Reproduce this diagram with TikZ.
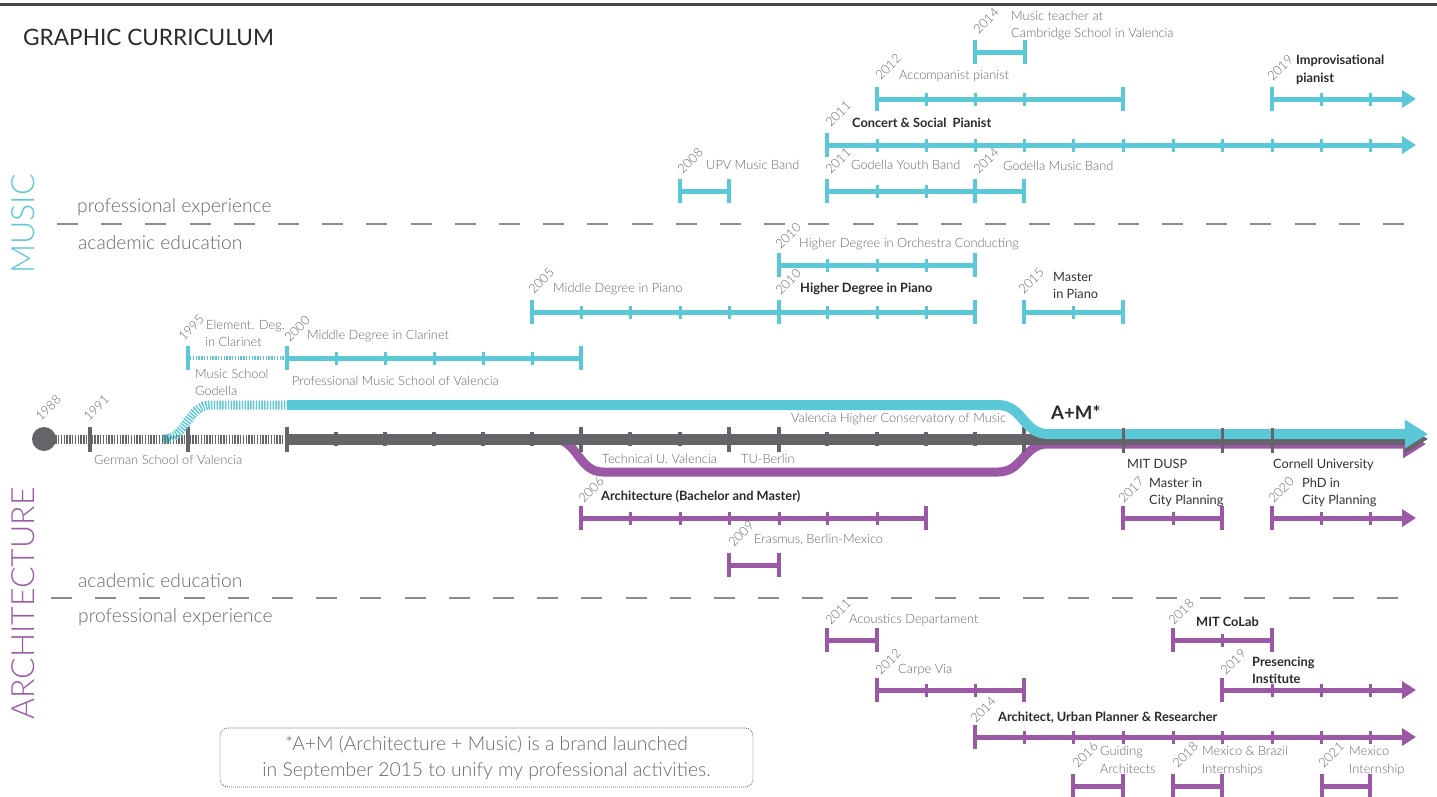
\documentclass[tikz,border=0pt]{standalone}
\usepackage{fontspec}
\setmainfont{Lato}
\newfontfamily\lightfont{Lato Light}
\usetikzlibrary{arrows.meta}
\definecolor{mblue}{HTML}{5BC8D8}
\definecolor{apurple}{HTML}{9B59A5}
\definecolor{mgrey}{HTML}{646469}
\definecolor{tgrey}{HTML}{67676C}
\definecolor{tdark}{HTML}{333335}
\definecolor{tbold}{HTML}{2A2A2C}
\definecolor{sepgrey}{HTML}{8C8C90}
\definecolor{boxc}{HTML}{555558}
\newcommand\TSeg[4]{%
  \draw[barln=#1] (#3,#2) -- (#4,#2);
  \draw[tallt=#1] (#3,#2-12) -- (#3,#2+12);
  \draw[tallt=#1] (#4,#2-12) -- (#4,#2+12);}
\newcommand\TTicks[3]{%
  \foreach \t in {#3} {\draw[smallt=#1] (\t,#2-6.5) -- (\t,#2+6.5);}}
\newcommand\TArr[3]{%
  \draw[barln=#1,-{Triangle[length=14pt,width=17pt]}] (#3,#2) -- (1416,#2);
  \draw[tallt=#1] (#3,#2-12) -- (#3,#2+12);}
\newcommand\TTall[3]{\draw[tallt=#1] (#3,#2-12) -- (#3,#2+12);}
\newcommand\Lab[5][lt]{\node[#1] (#2) at (#3,#4) {#5};}
\newcommand\Yr[4]{\node[yr] (#1) at (#2,#3) {#4};}
\begin{document}
\begin{tikzpicture}[x=1pt,y=-1pt,
  barln/.style={draw=#1, line width=5pt},
  tallt/.style={draw=#1, line width=3.5pt},
  smallt/.style={draw=#1, line width=3pt},
  lt/.style={font=\lightfont\fontsize{12.8}{15}\selectfont, text=tgrey, inner sep=0, anchor=base west},
  dk/.style={font=\fontsize{12.8}{15}\selectfont, text=tdark, inner sep=0, anchor=base west},
  bd/.style={font=\bfseries\fontsize{12.8}{15}\selectfont, text=tbold, inner sep=0, anchor=base west},
  sec/.style={font=\lightfont\fontsize{19.2}{23}\selectfont, text=tgrey, inner sep=0, anchor=base west},
  yr/.style={font=\lightfont\fontsize{12.8}{14}\selectfont, text=tgrey, rotate=45, anchor=south west, inner sep=0},
  sep/.style={draw=sepgrey, line width=2pt, dash pattern=on 21pt off 23.2pt},
  bigarrow/.style={-{Triangle[length=23pt,width=27pt]}}
]
\useasboundingbox (0,0) rectangle (1437,796);
% top rule and title
\draw[draw=tdark!90, line width=2.3pt] (0,4.5) -- (1437,4.5);
\node[font=\fontsize{22.6}{26}\selectfont, text=tbold, inner sep=0, anchor=base west] (title) at (23,45) {GRAPHIC CURRICULUM};
% side titles
\node[font=\lightfont\fontsize{32}{36}\selectfont, text=mblue, rotate=90, inner sep=0] (music) at (23.5,224) {MUSIC};
\node[font=\lightfont\fontsize{32}{36}\selectfont, text=apurple, rotate=90, inner sep=0] (arch) at (23.5,603.5) {ARCHITECTURE};
% separators
\coordinate (s1a) at (57,224); \coordinate (s1b) at (1404,224);
\coordinate (s2a) at (51,598); \coordinate (s2b) at (1398,598);
\draw[sep] (s1a) -- (s1b);
\draw[sep] (s2a) -- (s2b);
\node[sec] (mprof) at (77,212) {professional experience};
\node[sec] (macad) at (78,249) {academic education};
\node[sec] (aacad) at (78,587) {academic education};
\node[sec] (aprof) at (78,622) {professional experience};

% ===== main lines =====
\draw[draw=apurple, line width=9pt, bigarrow] (553,439) .. controls (578,439) and (578,472) .. (603,472) -- (998,472) .. controls (1023,472) and (1023,444) .. (1048,444) -- (1426,444);
\draw[draw=mgrey, line width=9pt, dash pattern=on 1.4pt off 1.4pt] (44,439) -- (287,439);
\draw[draw=mgrey, line width=11pt, bigarrow] (287,439) -- (1428,439);
\foreach \t in {90,188,287,581,729,779,1024} {\draw[tallt=mgrey] (\t,426.5) -- (\t,451.5);}
\foreach \t in {336,385,434,483,532,630,680,827,877,926,975} {\draw[draw=mgrey, line width=3.3pt] (\t,432) -- (\t,446);}
\draw[draw=mblue, line width=9pt, dash pattern=on 1.4pt off 1.4pt] (163,439) .. controls (187,439) and (187,405) .. (211,405) -- (287,405);
\draw[draw=mblue, line width=10pt, bigarrow] (287,405) -- (998,405) .. controls (1023,405) and (1023,434) .. (1048,434) -- (1428,434);
\foreach \t in {1123,1222,1272} {\draw[draw=mgrey, line width=3pt] (\t,428) -- (\t,453);}
\node[circle, fill=mgrey, minimum size=24pt, inner sep=0] (start) at (44,439) {};

% ===== music professional =====
\TSeg{mblue}{52}{975}{1025}
\TSeg{mblue}{99}{877}{1123} \TTicks{mblue}{99}{926,975,1024}
\TArr{mblue}{99}{1272} \TTicks{mblue}{99}{1321,1370}
\TArr{mblue}{145}{827} \TTicks{mblue}{145}{877,926,975,1024,1073,1123,1173,1222,1272,1321,1370}
\TSeg{mblue}{191}{680}{729}
\TSeg{mblue}{191}{827}{1024} \TTicks{mblue}{191}{877,926} \TTall{mblue}{191}{975}
% ===== music academic =====
\TSeg{mblue}{265}{779}{975} \TTicks{mblue}{265}{827,877,926}
\TSeg{mblue}{312}{532}{975} \TTicks{mblue}{312}{581,630,680,729,827,877,926} \TTall{mblue}{312}{779}
\TSeg{mblue}{312}{1024}{1123} \TTicks{mblue}{312}{1073}
\draw[draw=mblue, line width=4.5pt, dash pattern=on 1.4pt off 1.4pt] (190,358) -- (287,358);
\TTall{mblue}{358}{188}
\TSeg{mblue}{358}{287}{581} \TTicks{mblue}{358}{336,385,434,483,532}
% ===== architecture academic =====
\TSeg{apurple}{518}{581}{926} \TTicks{apurple}{518}{630,680,729,779,827,877}
\TSeg{apurple}{565}{729}{779}
\TSeg{apurple}{518}{1123}{1222} \TTicks{apurple}{518}{1173}
\TArr{apurple}{518}{1272} \TTicks{apurple}{518}{1321,1370}
% ===== architecture professional =====
\TSeg{apurple}{640}{827}{877}
\TSeg{apurple}{690}{877}{1024} \TTicks{apurple}{690}{926,975}
\TSeg{apurple}{640}{1173}{1272} \TTicks{apurple}{640}{1222}
\TArr{apurple}{690}{1222} \TTicks{apurple}{690}{1272,1321,1370}
\TArr{apurple}{737}{975} \TTicks{apurple}{737}{1024,1073,1123,1173,1222,1272,1321,1370}
\TSeg{apurple}{786}{1073}{1123}
\TSeg{apurple}{786}{1173}{1222}
\TSeg{apurple}{786}{1322}{1370}

% ===== years =====
\Yr{y1988}{41}{422}{1988}
\Yr{y1991}{89}{422}{1991}
\Yr{y1995}{184}{342}{1995}
\Yr{y2000}{290}{343}{2000}
\Yr{y2005}{534}{295}{2005}
\Yr{y2010p}{781}{296}{2010}
\Yr{y2010o}{781}{250}{2010}
\Yr{y2015}{1024}{295}{2015}
\Yr{y2008}{683}{175}{2008}
\Yr{y2011g}{831}{175}{2011}
\Yr{y2014g}{979}{175}{2014}
\Yr{y2011c}{831}{128}{2011}
\Yr{y2012a}{881}{81}{2012}
\Yr{y2019i}{1273}{82}{2019}
\Yr{y2014c}{979}{35}{2014}
\Yr{y2006}{584}{504}{2006}
\Yr{y2009}{734}{548}{2009}
\Yr{y2017}{1124}{504}{2017}
\Yr{y2020}{1274}{504}{2020}
\Yr{y2011a}{831}{626}{2011}
\Yr{y2012c}{881}{676}{2012}
\Yr{y2018c}{1174}{626}{2018}
\Yr{y2019p}{1226}{676}{2019}
\Yr{y2014a}{976}{724}{2014}
\Yr{y2016}{1078}{769}{2016}
\Yr{y2018m}{1178}{769}{2018}
\Yr{y2021}{1324}{769}{2021}

% ===== labels =====
\Lab{l1a}{1011}{20}{Music teacher at}
\Lab{l1b}{1011}{37}{Cambridge School in Valencia}
\Lab{l2}{899}{79}{Accompanist pianist}
\Lab[bd]{l3a}{1296}{64}{Improvisational}
\Lab[bd]{l3b}{1296}{82}{pianist}
\Lab[bd]{l4}{852}{127}{Concert \&\ Social\ \ Pianist}
\Lab{l5}{706}{169}{UPV Music Band}
\Lab{l6}{851}{169}{Godella Youth Band}
\Lab{l7}{1003}{170}{Godella Music Band}
\Lab{l8}{799}{247}{Higher Degree in Orchestra Conducting}
\Lab{l9}{553}{292}{Middle Degree in Piano}
\Lab[bd]{l10}{800}{292}{Higher Degree in Piano}
\Lab[dk]{l11a}{1053}{281}{Master}
\Lab[dk]{l11b}{1053}{298}{in Piano}
\Lab{l12a}{206}{329}{Element. Deg.}
\Lab{l12b}{205}{346}{in Clarinet}
\Lab{l13}{307}{339}{Middle Degree in Clarinet}
\Lab{l14a}{195}{378}{Music School}
\Lab{l14b}{195}{395}{Godella}
\Lab{l15}{292}{385}{Professional Music School of Valencia}
\Lab{l16}{94}{464}{German School of Valencia}
\Lab{l17}{791}{422}{Valencia Higher Conservatory of Music}
\Lab{l18}{602}{463}{Technical U. Valencia}
\Lab{l19}{741}{463}{TU-Berlin}
\node[font=\bfseries\fontsize{18.6}{22}\selectfont, text=tbold, inner sep=0, anchor=base west] (am) at (1051,419) {A+M*};
\Lab[dk]{l20}{1127}{468}{MIT DUSP}
\Lab[dk]{l21}{1273}{468}{Cornell University}
\Lab[bd]{l22}{601}{500}{Architecture (Bachelor and Master)}
\Lab[dk]{l23a}{1149}{487}{Master in}
\Lab[dk]{l23b}{1149}{504}{City Planning}
\Lab[dk]{l24a}{1302}{487}{PhD in}
\Lab[dk]{l24b}{1302}{504}{City Planning}
\Lab{l25}{754}{543}{Erasmus, Berlin-Mexico}
\Lab{l26}{849}{623}{Acoustics Departament}
\Lab{l27}{898}{673}{Carpe Via}
\Lab[bd]{l28}{1196}{626}{MIT CoLab}
\Lab[bd]{l29a}{1252}{666}{Presencing}
\Lab[bd]{l29b}{1252}{683}{Institute}
\Lab[bd]{l30}{998}{721}{Architect, Urban Planner \& Researcher}
\Lab{l31a}{1100}{755}{Guiding}
\Lab{l31b}{1100}{773}{Architects}
\Lab{l32a}{1202}{755}{Mexico \& Brazil}
\Lab{l32b}{1202}{773}{Internships}
\Lab{l33a}{1349}{755}{Mexico}
\Lab{l33b}{1349}{773}{Internship}

% ===== note box =====
\node[draw=boxc, line width=0.8pt, dash pattern=on 0.8pt off 1.2pt, rounded corners=8pt,
      minimum width=533pt, minimum height=59pt, inner sep=0, align=center,
      font=\lightfont\fontsize{19.3}{26}\selectfont, text=tgrey] (note) at (486.5,757.5)
  {*A+M (Architecture + Music) is a brand launched\\in September 2015 to unify my professional activities.};
\end{tikzpicture}
\end{document}
